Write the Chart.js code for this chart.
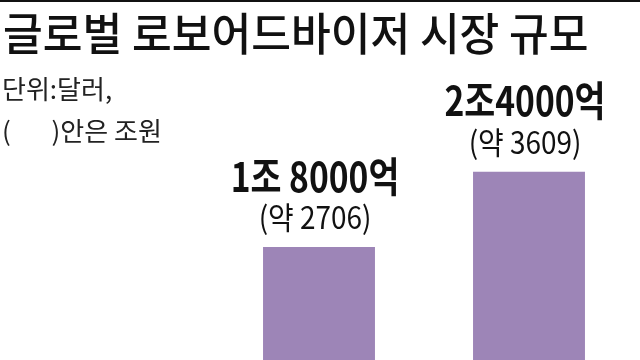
<!DOCTYPE html>
<html>
<head>
<meta charset="utf-8">
<script src="https://cdn.jsdelivr.net/npm/chart.js@4"></script>
<style>
  html, body { margin: 0; padding: 0; background: #fff; }
  #wrap { width: 640px; height: 360px; position: relative; }
</style>
</head>
<body>
<div id="wrap"><canvas id="myChart" width="640" height="360"></canvas></div>
<script>
const categories = ["1조 8000억", "2조4000억"];
const values = [1.8, 2.4];            // 조 달러
const wonLabels = ["(약 2706)", "(약 3609)"];
const titleText = "글로벌 로보어드바이저 시장 규모";
const unitLines = ["단위:달러,", "(       )안은 조원"];

const FONT = "'Noto Sans CJK KR', 'Noto Sans', sans-serif";

// condensed text helper
function drawText(ctx, txt, x, y, size, weight, sx, align) {
  ctx.save();
  ctx.font = weight + " " + size + "px " + FONT;
  ctx.textAlign = align;
  ctx.textBaseline = "middle";
  ctx.translate(x, y);
  ctx.scale(sx, 1);
  ctx.fillText(txt, 0, 0);
  ctx.restore();
}

const labelPlugin = {
  id: "labels",
  afterDraw(chart) {
    const ctx = chart.ctx;
    ctx.fillStyle = "#111";
    // top rule
    ctx.fillRect(0, 0, 640, 2);
    drawText(ctx, titleText, 3, 34, 45, "500", 0.96, "left");
    ctx.fillStyle = "#222";
    drawText(ctx, unitLines[0], 2, 89, 26, "normal", 1.0, "left");
    drawText(ctx, unitLines[1], 2, 131, 26, "normal", 1.0, "left");

    ctx.fillStyle = "#111";
    chart.getDatasetMeta(0).data.forEach((bar, i) => {
      drawText(ctx, categories[i], bar.x - 4, bar.y - 71, 41, "bold", 0.82, "center");
      drawText(ctx, wonLabels[i], bar.x - 4, bar.y - 30, 31, "normal", 0.9, "center");
    });
  }
};

new Chart("myChart", {
  type: "bar",
  data: {
    labels: categories,
    datasets: [{
      data: values,
      backgroundColor: "#9d85b7",
      barPercentage: 0.533,
      categoryPercentage: 1
    }]
  },
  options: {
    responsive: false,
    animation: false,
    layout: { padding: { left: 214, right: 6, top: 0, bottom: 0 } },
    plugins: { legend: { display: false }, tooltip: { enabled: false } },
    scales: {
      x: { display: false },
      y: { display: false, min: 0.9, max: 3.77 }
    }
  },
  plugins: [labelPlugin]
});
</script>
</body>
</html>
